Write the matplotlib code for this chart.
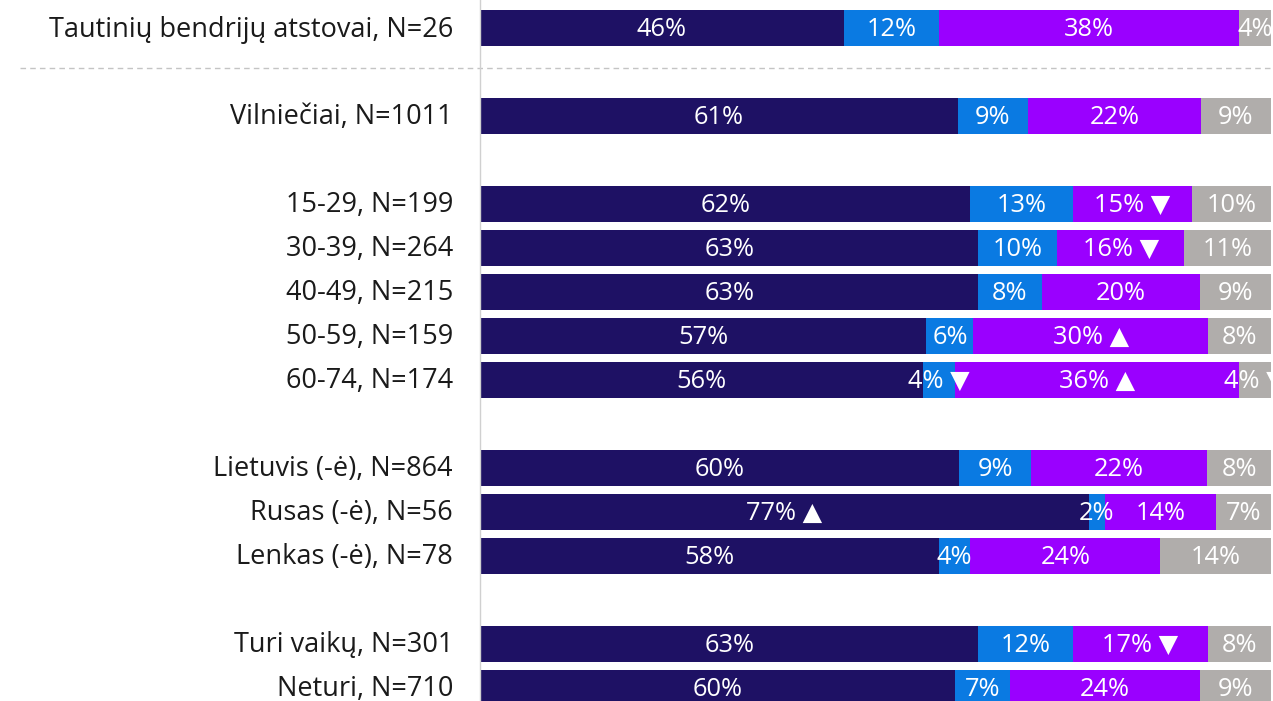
import matplotlib.pyplot as plt
from matplotlib.transforms import blended_transform_factory, ScaledTranslation
import numpy as np

plt.rcParams['font.family'] = ['Open Sans', 'DejaVu Sans']

# row labels and their row positions (gaps between groups)
labels = ["Tautinių bendrijų atstovai, N=26", "Vilniečiai, N=1011",
          "15-29, N=199", "30-39, N=264", "40-49, N=215", "50-59, N=159", "60-74, N=174",
          "Lietuvis (-ė), N=864", "Rusas (-ė), N=56", "Lenkas (-ė), N=78",
          "Turi vaikų, N=301", "Neturi, N=710"]
rows = [0, 2, 4, 5, 6, 7, 8, 10, 11, 12, 14, 15]

# four answer shares per row
dark = [46, 61, 62, 63, 63, 57, 56, 60, 77, 58, 63, 60]
blue = [12, 9, 13, 10, 8, 6, 4, 9, 2, 4, 12, 7]
purple = [38, 22, 15, 16, 20, 30, 36, 22, 14, 24, 17, 24]
grey = [4, 9, 10, 11, 9, 8, 4, 8, 7, 14, 8, 9]

# significance markers per segment ("" none, "▲" up, "▼" down)
mark_dark = ["", "", "", "", "", "", "", "", "▲", "", "", ""]
mark_blue = ["", "", "", "", "", "", "▼", "", "", "", "", ""]
mark_purple = ["", "", "▼", "▼", "", "▲", "▲", "", "", "", "▼", ""]
mark_grey = ["", "", "", "", "", "", "▼", "", "", "", "", ""]

colors = ["#1e1164", "#0a7ae2", "#9a00ff", "#b0adab"]

W, H = 1273, 701
fig = plt.figure(figsize=(W / 100, H / 100), dpi=100)
ax = fig.add_axes([480 / W, 0, 1 - 480 / W, 1])

series = [dark, blue, purple, grey]
marks = [mark_dark, mark_blue, mark_purple, mark_grey]
# rounded shares don't always sum to 100, scale each row to full width
totals = np.sum(np.array(series, dtype=float), axis=0)
left = np.zeros(len(rows))
for vals, mk, c in zip(series, marks, colors):
    vals = np.array(vals, dtype=float)
    w = vals / totals * 100
    ax.barh(rows, w, left=left, height=0.82, color=c, linewidth=0)
    for y, l, ww, v, m in zip(rows, left, w, vals, mk):
        txt = f"{int(v)}%" + (f" {m}" if m else "")
        ax.text(l + ww / 2, y + 0.03, txt, ha="center", va="center", color="white",
                fontsize=18.3, family=['Open Sans', 'DejaVu Sans'])
    left += w

ax.set_xlim(0, 100.25)
ax.set_ylim((H - 28) / 44, -28 / 44)
ax.set_xticks([])
ax.set_yticks(rows)
ax.set_yticklabels(labels, fontsize=19.5, color="#1a1a1a")
ax.tick_params(axis="y", length=0, pad=19.5)
# nudge labels up a touch so the last one stays inside the picture
for lbl in ax.get_yticklabels():
    lbl.set_transform(lbl.get_transform() + ScaledTranslation(0, 2 / 100, fig.dpi_scale_trans))
for s in ["top", "right", "bottom"]:
    ax.spines[s].set_visible(False)
ax.spines["left"].set_color("#d0d0d0")
ax.spines["left"].set_linewidth(1)

# dashed separator under the first row
tr = blended_transform_factory(ax.transAxes, ax.transData)
ax.plot([-460 / 793, 1], [0.91, 0.91], transform=tr, clip_on=False,
        color="#c4c4c4", linestyle=(0, (4, 3)), linewidth=1)

fig.savefig("out.png", dpi=100)
